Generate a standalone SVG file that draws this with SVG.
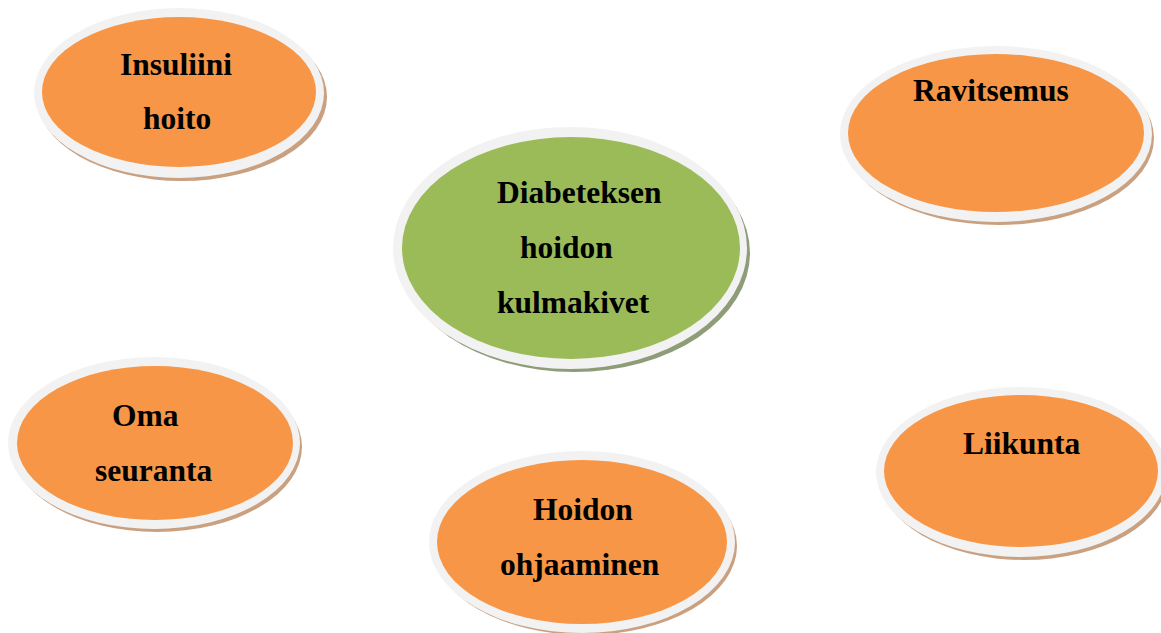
<svg xmlns="http://www.w3.org/2000/svg" width="1161" height="633" viewBox="0 0 1161 633">
<style>
.sh-o{fill:#C9A080;}
.sh-g{fill:#8E9C78;}
.rim{fill:#F2F2F2;}
.fo{fill:#F79646;}
.fg{fill:#9BBB59;}
text{font-family:"Liberation Serif","Times New Roman",serif;font-weight:bold;font-size:31.5px;fill:#000;}
</style>
<rect width="1161" height="633" fill="#FFFFFF"/>
<g id="connectors"></g>
<g id="node-insuliini">
<ellipse class="sh-o" cx="182" cy="97" rx="145" ry="84"/>
<ellipse class="rim" cx="179" cy="93" rx="145" ry="85"/>
<ellipse class="fo" cx="179" cy="92" rx="137" ry="75"/>
<text x="120" y="75">Insuliini</text>
<text x="143" y="129">hoito</text>
</g>
<g id="node-ravitsemus">
<ellipse class="sh-o" cx="999" cy="138" rx="155" ry="87"/>
<ellipse class="rim" cx="996" cy="134" rx="156" ry="88"/>
<ellipse class="fo" cx="996" cy="133" rx="148" ry="79"/>
<text x="913" y="101">Ravitsemus</text>
</g>
<g id="node-center">
<ellipse class="sh-g" cx="574" cy="253" rx="176" ry="119"/>
<ellipse class="rim" cx="570" cy="248" rx="177" ry="121"/>
<ellipse class="fg" cx="571" cy="248" rx="169" ry="111"/>
<text x="497" y="203">Diabeteksen</text>
<text x="520" y="258">hoidon</text>
<text x="497" y="313">kulmakivet</text>
</g>
<g id="node-oma">
<ellipse class="sh-o" cx="157" cy="447" rx="145" ry="85"/>
<ellipse class="rim" cx="154" cy="443" rx="146" ry="86"/>
<ellipse class="fo" cx="155" cy="443" rx="138" ry="77"/>
<text x="112" y="426">Oma</text>
<text x="95" y="481">seuranta</text>
</g>
<g id="node-hoidon">
<ellipse class="sh-o" cx="585" cy="546" rx="152" ry="89"/>
<ellipse class="rim" cx="582" cy="542" rx="153" ry="91"/>
<ellipse class="fo" cx="582" cy="542" rx="145" ry="82"/>
<text x="533" y="520">Hoidon</text>
<text x="500" y="575">ohjaaminen</text>
</g>
<g id="node-liikunta">
<ellipse class="sh-o" cx="1024" cy="476" rx="144" ry="84"/>
<ellipse class="rim" cx="1021" cy="472" rx="145" ry="85"/>
<ellipse class="fo" cx="1021" cy="471" rx="137" ry="76"/>
<text x="963" y="454">Liikunta</text>
</g>
</svg>
